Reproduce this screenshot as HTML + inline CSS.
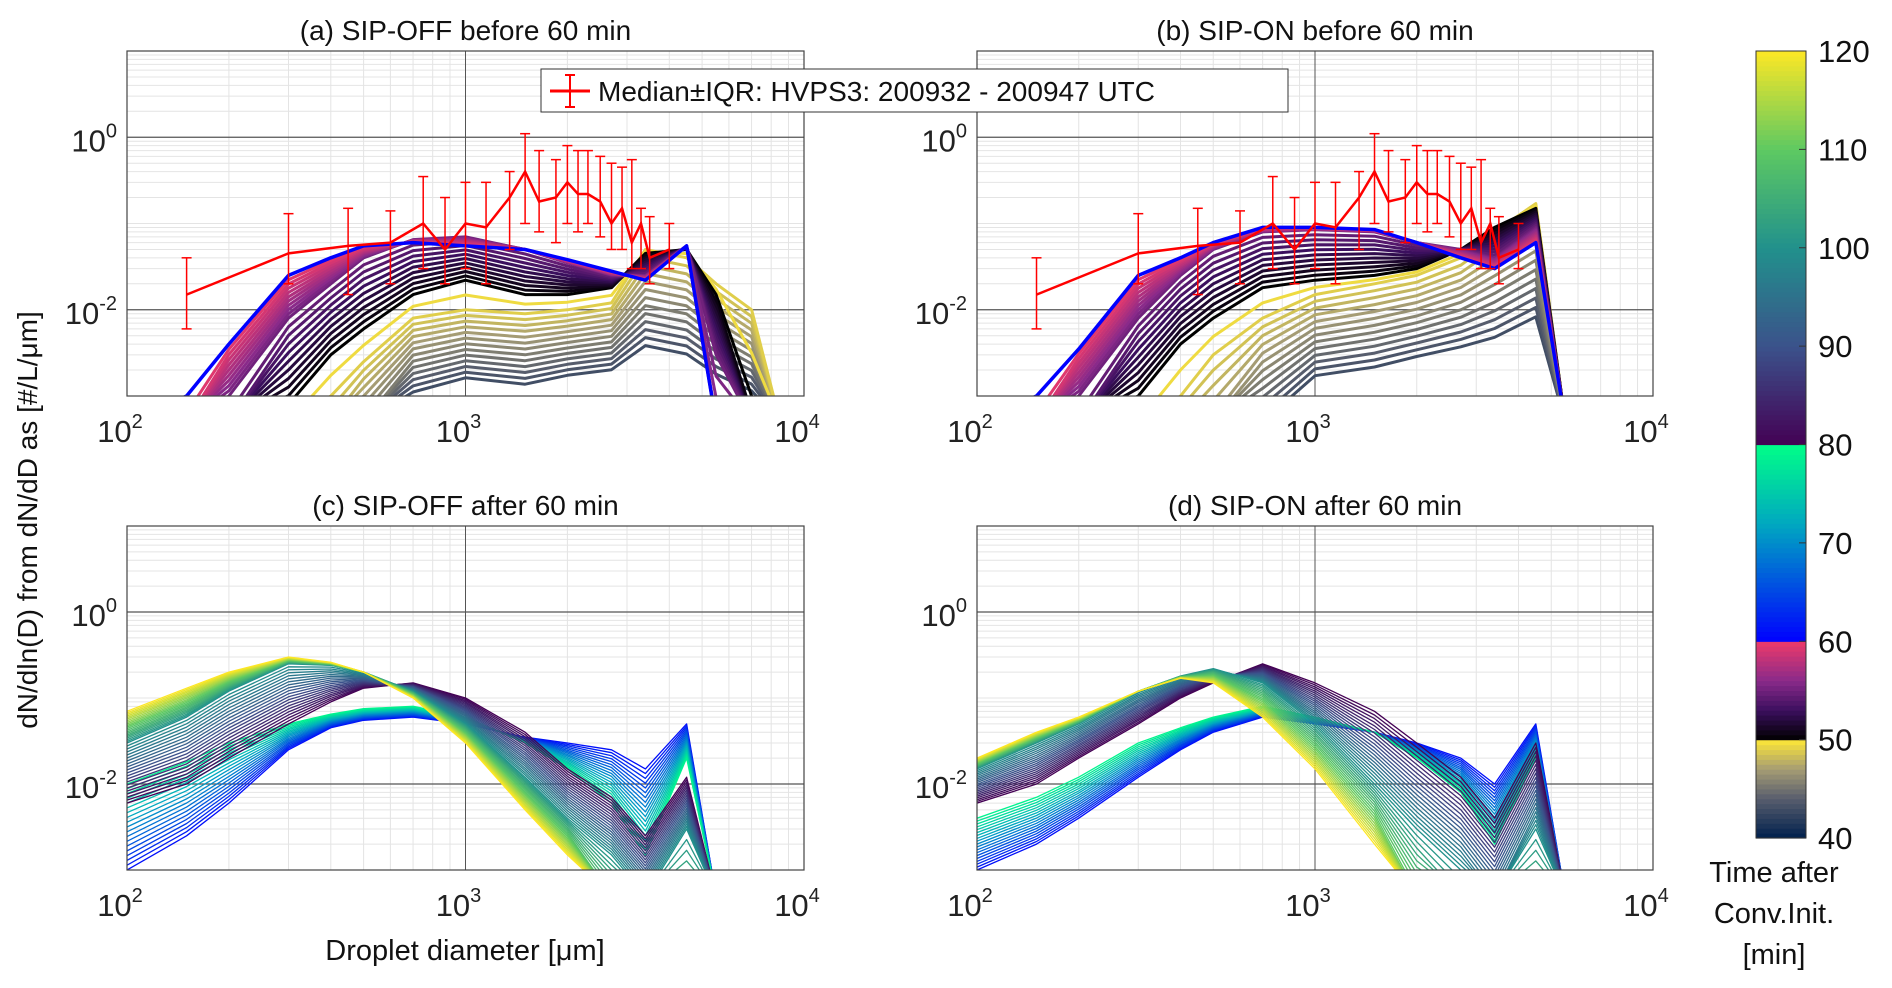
<!DOCTYPE html>
<html><head><meta charset="utf-8"><style>
html,body{margin:0;padding:0;background:#fff}
svg{display:block;font-family:"Liberation Sans",sans-serif}
</style></head><body>
<svg id="fig" width="1892" height="988" viewBox="0 0 1892 988" xmlns="http://www.w3.org/2000/svg"></svg>
<script>
// ---- data ----
const diam = [100,150,200,300,400,500,700,1000,1500,2000,2700,3400,4500,5500,7000,8500];
// panel a (SIP-OFF before 60)
const aTimes = [42,49,50,55,60];
const aP42 = [0,0,0,0,0,1e-4,8e-4,1.2e-3,1e-3,1.3e-3,1.5e-3,2.5e-3,2e-3,1.2e-3,8e-4,0];
const aP49 = [0,0,0,1e-4,1e-3,2.5e-3,8e-3,1e-2,9e-3,1e-2,1.2e-2,5e-2,4e-2,2e-2,1e-2,0];
const aP50 = [0,0,0,8e-4,3e-3,6e-3,1.5e-2,2.2e-2,1.5e-2,1.5e-2,1.8e-2,4.5e-2,5e-2,1.5e-2,1e-3,0];
const aP55 = [0,0,1e-3,8e-3,2e-2,4e-2,6.5e-2,7e-2,5e-2,3.5e-2,2.5e-2,2.5e-2,5.5e-2,3e-3,0,0];
const aP60 = [0,1e-3,4e-3,2.5e-2,4e-2,5.5e-2,6e-2,5.5e-2,5e-2,3.8e-2,2.8e-2,2.2e-2,5.5e-2,0,0,0];
// panel b (SIP-ON before 60)
const bTimes = [42,49,50,55,60];
const bP42 = [0,0,0,0,0,0,3e-4,1.2e-3,1.5e-3,2e-3,2.5e-3,3e-3,5e-3,0,0,0];
const bP49 = [0,0,0,1e-4,1e-3,3e-3,8e-3,1.5e-2,2e-2,2.5e-2,4e-2,8e-2,1.7e-1,0,0,0];
const bP50 = [0,0,0,1e-3,4e-3,8e-3,1.8e-2,2.2e-2,2.5e-2,3e-2,5e-2,9e-2,1.5e-1,0,0,0];
const bP55 = [0,0,1e-3,8e-3,2.5e-2,5e-2,8e-2,8.5e-2,8e-2,6e-2,5e-2,4e-2,9e-2,0,0,0];
const bP60 = [0,1e-3,3.5e-3,2.5e-2,4e-2,6e-2,9e-2,9e-2,8.5e-2,6e-2,4e-2,3e-2,6e-2,0,0,0];
// panel c (SIP-OFF after 60)
const cTimes = [61,79,80,100,120];
const cP61 = [1e-3,2.5e-3,6e-3,2.5e-2,4.5e-2,5.5e-2,6e-2,5e-2,3.5e-2,3e-2,2.5e-2,1.5e-2,5e-2,0,0,0];
const cP79 = [1e-2,1.8e-2,3e-2,5e-2,6.5e-2,7.5e-2,8e-2,6e-2,3e-2,1.5e-2,6e-3,1.5e-3,2e-2,0,0,0];
const cP80 = [6e-3,1e-2,2e-2,5e-2,9e-2,1.3e-1,1.5e-1,1e-1,4e-2,1.5e-2,7e-3,2.5e-3,1.2e-2,0,0,0];
const cP100 = [3e-2,6e-2,1.2e-1,2.5e-1,2.4e-1,2e-1,1.2e-1,5e-2,1.2e-2,4e-3,1.5e-3,5e-4,3e-3,0,0,0];
const cP120 = [7e-2,1.3e-1,2e-1,3e-1,2.6e-1,2e-1,1e-1,3e-2,5e-3,1.5e-3,1e-4,0,0,0,0,0];
// panel d (SIP-ON after 60)
const dTimes = [61,79,80,100,120];
const dP61 = [1e-3,2e-3,4e-3,1.2e-2,2.5e-2,4e-2,6e-2,5e-2,4e-2,3e-2,2e-2,1e-2,5e-2,0,0,0];
const dP79 = [4e-3,7e-3,1.2e-2,3e-2,4.5e-2,6e-2,8e-2,6e-2,4e-2,2e-2,8e-3,2e-3,2e-2,0,0,0];
const dP80 = [6e-3,1e-2,2e-2,5e-2,1e-1,1.5e-1,2.5e-1,1.5e-1,7e-2,3e-2,1.2e-2,4e-3,3e-2,0,0,0];
const dP100 = [1.5e-2,3e-2,5e-2,1.2e-1,1.8e-1,2.2e-1,1.5e-1,5e-2,1e-2,3e-3,1e-3,3e-4,3e-3,0,0,0];
const dP120 = [2e-2,4e-2,6e-2,1.2e-1,1.7e-1,1.5e-1,6e-2,1.5e-2,2e-3,1e-4,0,0,0,0,0,0];
// observations (median ± IQR)
const obsD = [150,300,450,600,750,870,1000,1150,1350,1500,1650,1850,2000,2150,2300,2500,2700,2900,3100,3300,3500,4000];
const obsMed = [0.015,0.045,0.055,0.06,0.1,0.05,0.1,0.09,0.2,0.4,0.18,0.2,0.3,0.22,0.22,0.18,0.1,0.15,0.06,0.1,0.04,0.05];
const obsLo = [0.006,0.02,0.015,0.02,0.03,0.02,0.03,0.02,0.05,0.1,0.08,0.06,0.1,0.08,0.1,0.07,0.05,0.05,0.03,0.03,0.02,0.03];
const obsHi = [0.04,0.13,0.15,0.14,0.35,0.2,0.3,0.3,0.4,1.1,0.7,0.55,0.8,0.7,0.7,0.6,0.5,0.45,0.55,0.15,0.12,0.1];
const cbTicks = [40,50,60,70,80,90,100,110,120];

// ---- helpers ----
const NS='http://www.w3.org/2000/svg', svg=document.getElementById('fig');
function mk(tag,attrs,parent){const e=document.createElementNS(NS,tag);for(const k in attrs)e.setAttribute(k,attrs[k]);(parent||svg).appendChild(e);return e;}
function lerpC(c1,c2,f){return c1.map((v,i)=>Math.round(v+(c2[i]-v)*f));}
function hex(h){return [parseInt(h.slice(1,3),16),parseInt(h.slice(3,5),16),parseInt(h.slice(5,7),16)];}
const stops=[[40,'#00204d'],[44,'#575d6d'],[47,'#a59c74'],[49.99,'#fde737'],[50,'#000000'],[53,'#3b0f5e'],[56,'#8a2a8a'],[59.99,'#ec3a6a'],[60,'#0000ff'],[66,'#0055e0'],[72,'#00a8c0'],[79.99,'#00ff88'],[80,'#440154'],[90,'#3b528b'],[100,'#21918c'],[110,'#5ec962'],[120,'#fde725']];
function cmap(t){for(let i=0;i<stops.length-1;i++){if(t>=stops[i][0]&&t<=stops[i+1][0]){const f=(t-stops[i][0])/(stops[i+1][0]-stops[i][0]||1);const c=lerpC(hex(stops[i][1]),hex(stops[i+1][1]),f);return 'rgb('+c.join(',')+')';}}return stops[stops.length-1][1];}

const panels=[
 {id:'a',title:'(a) SIP-OFF before 60 min',L:127,R:804,T:51,B:396,times:aTimes,prof:[aP42,aP49,aP50,aP55,aP60],t0:43,t1:60,dt:0.5,w:3},
 {id:'b',title:'(b) SIP-ON before 60 min',L:977,R:1653,T:51,B:396,times:bTimes,prof:[bP42,bP49,bP50,bP55,bP60],t0:43,t1:60,dt:0.5,w:3},
 {id:'c',title:'(c) SIP-OFF after 60 min',L:127,R:804,T:526,B:870,times:cTimes,prof:[cP61,cP79,cP80,cP100,cP120],t0:61,t1:120,dt:1,w:1.3},
 {id:'d',title:'(d) SIP-ON after 60 min',L:977,R:1653,T:526,B:870,times:dTimes,prof:[dP61,dP79,dP80,dP100,dP120],t0:61,t1:120,dt:1,w:1.3}
];
function lg(v){return Math.log10(Math.max(v,1e-5));}
function profAt(p,t){
  const T=p.times;let i=0;
  if(t<=T[0]) return p.prof[0].map(lg);
  if(t>=T[T.length-1]) return p.prof[T.length-1].map(lg);
  while(!(t>=T[i]&&t<=T[i+1]))i++;
  const f=(t-T[i])/(T[i+1]-T[i]);
  return p.prof[i].map((v,k)=>lg(v)+(lg(p.prof[i+1][k])-lg(v))*f);
}
panels.forEach(p=>{
  const xs=d=>p.L+(Math.log10(d)-2)/2*(p.R-p.L);
  const ys=l=>p.B-(l+3)/4*(p.B-p.T);
  const g=mk('g',{});
  
  
  mk('rect',{x:p.L,y:p.T,width:p.R-p.L,height:p.B-p.T,fill:'#fff'},g);
  for(let e=2;e<4;e++)for(let m=2;m<10;m++){const x=xs(m*Math.pow(10,e));mk('line',{x1:x,x2:x,y1:p.T,y2:p.B,stroke:'#e4e4e4','stroke-width':1},g);}
  for(let e=-3;e<1;e++)for(let m=1;m<10;m++){if(m==1&&e%2==0)continue;const y=ys(e+Math.log10(m));mk('line',{x1:p.L,x2:p.R,y1:y,y2:y,stroke:'#e4e4e4','stroke-width':1},g);}
  mk('line',{x1:xs(1000),x2:xs(1000),y1:p.T,y2:p.B,stroke:'#555','stroke-width':1},g);
  [0,-2].forEach(e=>{const y=ys(e);mk('line',{x1:p.L,x2:p.R,y1:y,y2:y,stroke:'#555','stroke-width':1.2},g);});
  const cp=mk('clipPath',{id:'clip'+p.id},g);mk('rect',{x:p.L,y:p.T,width:p.R-p.L,height:p.B-p.T},cp);
  const lines=mk('g',{'clip-path':'url(#clip'+p.id+')'},g);
  for(let t=p.t0;t<=p.t1+1e-9;t+=p.dt){
    const pr=profAt(p,t);
    const pts=diam.map((d,k)=>xs(d).toFixed(1)+','+ys(Math.max(pr[k],-3.3)).toFixed(1)).join(' ');
    const pl=mk('polyline',{points:pts,fill:'none',stroke:cmap(t),'stroke-width':(t==60?3.5:p.w),'stroke-linejoin':'round'},lines);
    
    
  }
  if(p.id=='a'||p.id=='b'){
    const og=mk('g',{},lines);
    
    
    mk('polyline',{points:obsD.map((d,k)=>xs(d).toFixed(1)+','+ys(Math.log10(obsMed[k])).toFixed(1)).join(' '),fill:'none',stroke:'#f00','stroke-width':2.5},og);
    obsD.forEach((d,k)=>{const x=xs(d),y1=ys(Math.log10(obsLo[k])),y2=ys(Math.log10(obsHi[k]));
      mk('line',{x1:x,x2:x,y1:y1,y2:y2,stroke:'#f00','stroke-width':1.5},og);
      mk('line',{x1:x-5,x2:x+5,y1:y1,y2:y1,stroke:'#f00','stroke-width':1.5},og);
      mk('line',{x1:x-5,x2:x+5,y1:y2,y2:y2,stroke:'#f00','stroke-width':1.5},og);});
  }
  mk('rect',{x:p.L,y:p.T,width:p.R-p.L,height:p.B-p.T,fill:'none',stroke:'#444','stroke-width':1.2},g);
  [2,3,4].forEach(e=>{const t=mk('text',{x:xs(Math.pow(10,e))-7,y:p.B+46,'font-size':31,'text-anchor':'middle',fill:'#222'},g);t.innerHTML='10<tspan dy="-14" font-size="20">'+e+'</tspan>';
    });
  [0,-2].forEach(e=>{const t=mk('text',{x:p.L-10,y:ys(e)+14,'font-size':31,'text-anchor':'end',fill:'#222'},g);t.innerHTML='10<tspan dy="-14" font-size="20">'+e+'</tspan>';
    });
  const tt=mk('text',{x:(p.L+p.R)/2,y:p.T-11,'font-size':28,'text-anchor':'middle',fill:'#111'},g);tt.textContent=p.title;
  
});
const lgd=mk('g',{});


mk('rect',{x:541,y:69,width:747,height:43,fill:'#fff',stroke:'#333','stroke-width':1},lgd);
mk('line',{x1:550,x2:590,y1:91,y2:91,stroke:'#f00','stroke-width':3},lgd);
mk('line',{x1:570,x2:570,y1:75,y2:107,stroke:'#f00','stroke-width':2},lgd);
mk('line',{x1:565,x2:575,y1:75,y2:75,stroke:'#f00','stroke-width':2},lgd);
mk('line',{x1:565,x2:575,y1:107,y2:107,stroke:'#f00','stroke-width':2},lgd);
const lt=mk('text',{x:598,y:101,'font-size':28,fill:'#111'},lgd);lt.textContent='Median±IQR: HVPS3: 200932 - 200947 UTC';
const yl=mk('text',{x:0,y:0,'font-size':28,'text-anchor':'middle',fill:'#111',transform:'translate(37,520) rotate(-90)'});
yl.textContent='dN/dln(D) from dN/dD as [#/L/μm]';

const xl=mk('text',{x:465,y:960,'font-size':29,'text-anchor':'middle',fill:'#111'});
xl.textContent='Droplet diameter [μm]';

const cb=mk('g',{});


const cT=51,cB=838,cL=1756,cR=1806;
const cy=v=>cB-(v-40)/80*(cB-cT);
for(let v=40;v<120;v+=0.5){mk('rect',{x:cL,y:cy(v+0.5),width:cR-cL,height:cy(v)-cy(v+0.5)+0.6,fill:cmap(v+0.25)},cb);}
mk('rect',{x:cL,y:cT,width:cR-cL,height:cB-cT,fill:'none',stroke:'#333','stroke-width':1},cb);
cbTicks.forEach(v=>{mk('line',{x1:cR-7,x2:cR,y1:cy(v),y2:cy(v),stroke:'#333'},cb);
  const t=mk('text',{x:cR+12,y:cy(v)+11,'font-size':31,fill:'#111'},cb);t.textContent=v;
  });
['Time after','Conv.Init.','[min]'].forEach((s,i)=>{const t=mk('text',{x:1774,y:882+i*41,'font-size':29,'text-anchor':'middle',fill:'#111'},cb);t.textContent=s;
  });
</script>
</body></html>
